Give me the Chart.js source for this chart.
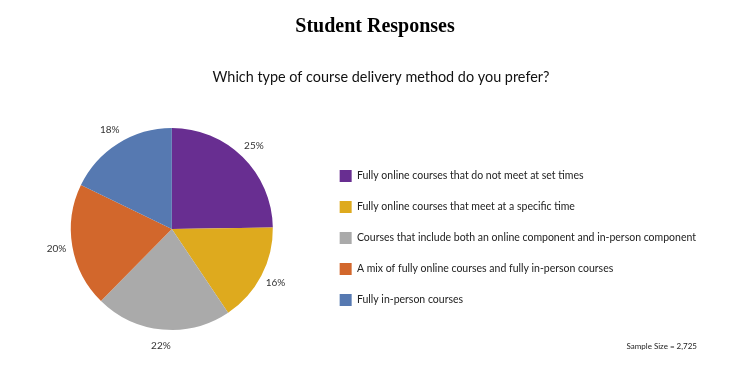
<!DOCTYPE html>
<html>
<head>
<meta charset="utf-8">
<script src="https://cdn.jsdelivr.net/npm/chart.js@4"></script>
<style>
  body { margin: 0; background: #fff; }
  #wrap { width: 740px; height: 368px; }
</style>
</head>
<body>
<div id="wrap"><canvas id="chart"></canvas></div>
<script>
const categories = [
  "Fully online courses that do not meet at set times",
  "Fully online courses that meet at a specific time",
  "Courses that include both an online component and in-person component",
  "A mix of fully online courses and fully in-person courses",
  "Fully in-person courses"
];
const percents = [25, 16, 22, 20, 18];
const sliceColors = ["#682e91", "#deaa1e", "#aaaaaa", "#d2672c", "#5679b1"];
const chartTitle = "Student Responses";
const chartQuestion = "Which type of course delivery method do you prefer?";
const sampleNote = "Sample Size = 2,725";

// percent labels outside each slice
const outsideLabels = {
  id: "outsideLabels",
  afterDatasetsDraw(chart) {
    const ctx = chart.ctx;
    const meta = chart.getDatasetMeta(0);
    ctx.save();
    ctx.font = "10px Lato";
    ctx.fillStyle = "#333";
    ctx.textAlign = "center";
    ctx.textBaseline = "middle";
    meta.data.forEach((arc, i) => {
      const mid = (arc.startAngle + arc.endAngle) / 2;
      const r = arc.outerRadius + 16;
      ctx.fillText(percents[i] + "%", arc.x + Math.cos(mid) * r, arc.y + Math.sin(mid) * r);
    });
    ctx.restore();
  }
};

// headings and sample size note (the page's headings are not centred over the pie)
const headings = {
  id: "headings",
  afterDraw(chart) {
    const ctx = chart.ctx;
    ctx.save();
    ctx.textBaseline = "middle";
    ctx.textAlign = "center";
    ctx.fillStyle = "#000";
    ctx.font = "bold 20px 'Liberation Serif'";
    ctx.fillText(chartTitle, 375, 27);
    ctx.fillStyle = "#111";
    ctx.font = "14.4px Lato";
    ctx.fillText(chartQuestion, 381, 77);
    ctx.textAlign = "right";
    ctx.fillStyle = "#222";
    ctx.font = "8px Lato";
    ctx.fillText(sampleNote, 697, 346);
    ctx.restore();
  }
};

new Chart(document.getElementById("chart").getContext("2d"), {
  type: "pie",
  data: {
    labels: categories,
    datasets: [{
      data: percents,
      backgroundColor: sliceColors,
      borderWidth: 0
    }]
  },
  options: {
    responsive: true,
    maintainAspectRatio: false,
    animation: false,
    layout: { padding: { left: 23, right: 34, top: 128, bottom: 38 } },
    plugins: {
      legend: {
        position: "right",
        fullSize: false,
        maxWidth: 460,
        title: { display: true, text: "", font: { size: 10 }, padding: 3 },
        labels: {
          boxWidth: 12,
          boxHeight: 12,
          padding: 19,
          color: "#222",
          font: { family: "Lato", size: 10.5 }
        }
      },
      tooltip: { enabled: false }
    }
  },
  plugins: [outsideLabels, headings]
});
</script>
</body>
</html>
